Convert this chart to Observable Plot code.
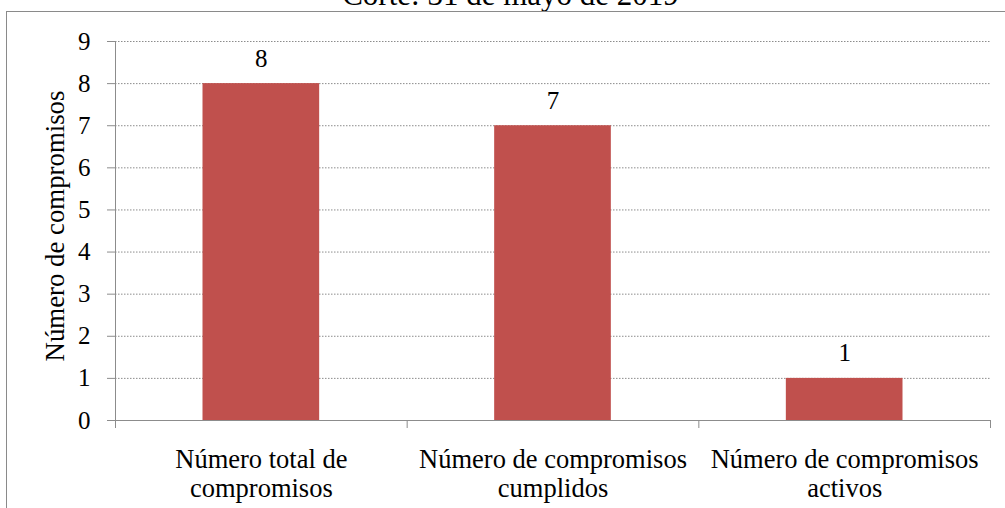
<!DOCTYPE html>
<html>
<head>
<meta charset="utf-8">
<script src="https://cdn.jsdelivr.net/npm/d3@7"></script>
<script src="https://cdn.jsdelivr.net/npm/@observablehq/plot@0.6"></script>
<style>
  html, body { margin: 0; padding: 0; background: #fff; overflow: hidden; width: 1005px; height: 508px; }
  body { position: relative; font-family: "Liberation Serif", serif; }
  #title { position: relative; height: 11px; overflow: hidden; width: 1005px; }
  #title span { position: absolute; left: 0; width: 1005px; top: -21px; text-align: center; font-size: 31px; line-height: 31px; transform: translateX(8px); color: #000; white-space: nowrap; }
  #border { position: absolute; left: 6px; top: 11px; width: 1200px; height: 700px; border-top: 1px solid #8a8a8a; border-left: 1px solid #8a8a8a; pointer-events: none; }
  #chart svg { display: block; }
</style>
</head>
<body>
<div id="title"><span>Corte: 31 de mayo de 2019</span></div>
<div id="chart"></div>
<div id="border"></div>
<script>
const categories = ["Número total de\ncompromisos", "Número de compromisos\ncumplidos", "Número de compromisos\nactivos"];
const values = [8, 7, 1];
const yTicks = [0, 1, 2, 3, 4, 5, 6, 7, 8, 9];
const yLabel = "Número de compromisos";
const boundaries = [0, 1, 2, 3];

const data = categories.map((c, i) => ({category: c, value: values[i], index: i}));
const serif = "Liberation Serif";

const chart = Plot.plot({
  width: 1005,
  height: 497,
  marginLeft: 115,
  marginRight: 15,
  marginTop: 30,
  marginBottom: 88,
  style: {fontFamily: serif, fontSize: "25px", color: "#000", background: "#fff"},
  x: {domain: [0, 3], axis: null},
  y: {domain: [0, 9], axis: null},
  marks: [
    Plot.ruleY(yTicks.filter(t => t > 0), {stroke: "#8c8c8c", strokeDasharray: "1.5,1.5", strokeWidth: 1}),
    Plot.rectY(data, {x1: d => d.index + 0.3, x2: d => d.index + 0.7, y: "value", fill: "#C0504D"}),
    Plot.ruleX([0], {stroke: "#8c8c8c", strokeWidth: 1}),
    Plot.ruleY([0], {stroke: "#8c8c8c", strokeWidth: 1}),
    Plot.axisY({ticks: yTicks, tickSize: 8, tickPadding: 17, stroke: "#8c8c8c", fill: "#000", fontSize: 25, fontFamily: serif, label: null, tickFormat: d => String(d)}),
    Plot.axisX({ticks: boundaries, tickSize: 8, stroke: "#8c8c8c", tickFormat: () => "", label: null}),
    Plot.text(data, {x: d => d.index + 0.5, y: 0, text: "category", lineAnchor: "top", dy: 27, lineHeight: 1.1, fontSize: 26.5, fontFamily: serif, fill: "#000"}),
    Plot.text(data, {x: d => d.index + 0.5, y: "value", text: d => String(d.value), lineAnchor: "middle", dy: -25, fontSize: 25, fontFamily: serif, fill: "#000"}),
    Plot.text([yLabel], {frameAnchor: "left", text: d => d, rotate: -90, textAnchor: "middle", lineAnchor: "bottom", dx: -52, dy: -5, fontSize: 26.8, fontFamily: serif, fill: "#000"})
  ]
});
d3.select(chart).attr("font-family", serif).style("font-family", serif);
d3.select(chart).selectAll("g, text, tspan").attr("font-family", serif).style("font-family", serif);
document.getElementById("chart").appendChild(chart);
</script>
</body>
</html>
